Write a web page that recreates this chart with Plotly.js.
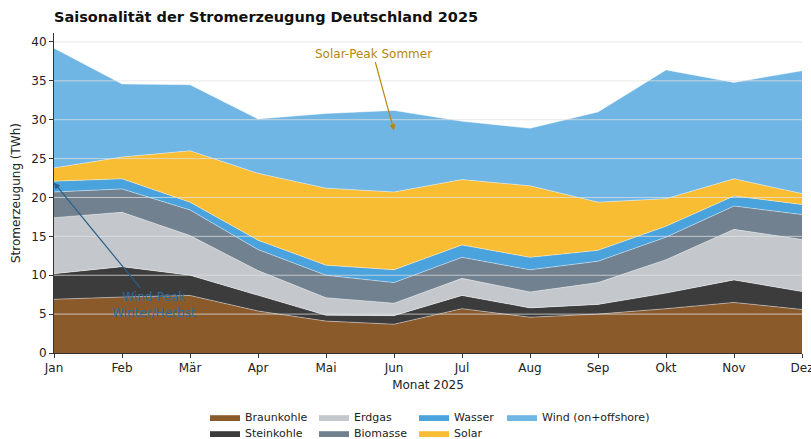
<!DOCTYPE html>
<html><head><meta charset="utf-8">
<script src="https://cdn.plot.ly/plotly-3.0.1.min.js"></script>
<style>html,body{margin:0;padding:0;background:#fff}#chart{width:811px;height:439px}</style>
</head><body><div id="chart"></div>
<script>
const months = ["Jan","Feb","Mär","Apr","Mai","Jun","Jul","Aug","Sep","Okt","Nov","Dez"];
const braunkohle = [6.9, 7.2, 7.4, 5.4, 4.1, 3.7, 5.7, 4.6, 5.0, 5.7, 6.5, 5.6];
const steinkohle = [3.3, 3.9, 2.6, 2.0, 0.75, 1.1, 1.7, 1.2, 1.25, 2.0, 2.9, 2.3];
const erdgas     = [7.2, 7.0, 5.1, 3.2, 2.25, 1.6, 2.2, 2.05, 2.8, 4.3, 6.5, 6.7];
const biomasse   = [3.3, 3.0, 3.3, 2.7, 2.9, 2.65, 2.7, 2.85, 2.75, 2.9, 3.0, 3.2];
const wasser     = [1.4, 1.3, 1.0, 1.2, 1.3, 1.65, 1.6, 1.6, 1.4, 1.4, 1.3, 1.3];
const solar      = [1.7, 2.8, 6.6, 8.6, 9.9, 10.0, 8.4, 9.2, 6.2, 3.55, 2.2, 1.4];
const wind       = [15.4, 9.4, 8.5, 7.0, 9.6, 10.5, 7.5, 7.4, 11.6, 16.55, 12.4, 15.8];
const yTicks = [0, 5, 10, 15, 20, 25, 30, 35, 40];

const series = [
  {name: "Braunkohle", y: braunkohle, color: "#8b5a2b"},
  {name: "Steinkohle", y: steinkohle, color: "#3c3c3c"},
  {name: "Erdgas", y: erdgas, color: "#c4c8cc"},
  {name: "Biomasse", y: biomasse, color: "#718190"},
  {name: "Wasser", y: wasser, color: "#4ba3dd"},
  {name: "Solar", y: solar, color: "#f9bd33"},
  {name: "Wind (on+offshore)", y: wind, color: "#70b6e4"}
];
// legend positions (pixel) for matplotlib-like 4-column layout
const legPos = [[205,417],[205,433],[314,417],[314,433],[414,417],[414,433],[502,417]];
const W = 811, H = 439, L = 54, T = 33, PW = 748, PH = 320;

const traces = series.map((s, i) => ({
  type: "scatter", mode: "lines", x: months, y: s.y, name: s.name,
  stackgroup: "one", fillcolor: s.color,
  line: {color: "rgba(255,255,255,0.7)", width: 0.6},
  legend: "legend" + (i + 2),
  hoverinfo: "x+y+name"
}));

const layout = {
  width: W, height: H,
  margin: {l: L, r: W - L - PW, t: T, b: H - T - PH, autoexpand: false},
  paper_bgcolor: "#fff", plot_bgcolor: "#fff",
  font: {family: "DejaVu Sans", size: 12, color: "#222"},
  showlegend: true,
  title: {text: "<b>Saisonalität der Stromerzeugung Deutschland 2025</b>",
          x: L / W, xanchor: "left", y: 1 - 17 / H, yanchor: "middle",
          font: {size: 14.5, color: "#111"}},
  xaxis: {type: "category", range: [0, 11], showgrid: false, showline: true, linecolor: "#333",
          ticks: "outside", ticklen: 4, tickcolor: "#333", zeroline: false,
          title: {text: "Monat 2025", font: {size: 12}, standoff: 6}},
  yaxis: {range: [0, 41.15], tickvals: yTicks, showgrid: false, showline: true, linecolor: "#333",
          ticks: "outside", ticklen: 4, tickcolor: "#333", zeroline: false,
          title: {text: "Stromerzeugung (TWh)", font: {size: 12}, standoff: 8}},
  shapes: yTicks.filter(v => v > 0).map(v => ({
    type: "line", xref: "paper", yref: "y", x0: 0, x1: 1, y0: v, y1: v, layer: "above",
    line: {color: "rgba(225,225,225,0.75)", width: 1}
  })),
  annotations: [
    {x: "Jun", y: 28.6, xref: "x", yref: "y", text: "Solar-Peak Sommer", showarrow: true,
     ax: -21, ay: -77, arrowhead: 2, arrowsize: 1, arrowwidth: 1.2, arrowcolor: "#b8860b",
     font: {size: 12, color: "#b8860b"}},
    {x: "Jan", y: 21.9, xref: "x", yref: "y", text: "Wind-Peak<br>Winter/Herbst", showarrow: true,
     ax: 100, ay: 122, arrowhead: 2, arrowsize: 1, arrowwidth: 1.2, arrowcolor: "#2a5f86",
     font: {size: 12, color: "#2c6e9e"}}
  ]
};
legPos.forEach((p, i) => {
  layout["legend" + (i + 2)] = {x: (p[0] - L) / PW, y: (T + PH - p[1]) / PH,
                 xanchor: "left", yanchor: "middle",
                 orientation: "v", bgcolor: "rgba(0,0,0,0)", borderwidth: 0,
                 font: {size: 11, color: "#222"}, itemwidth: 30};
});
Plotly.newPlot("chart", traces, layout, {displayModeBar: false, staticPlot: true});
</script>
</body></html>
